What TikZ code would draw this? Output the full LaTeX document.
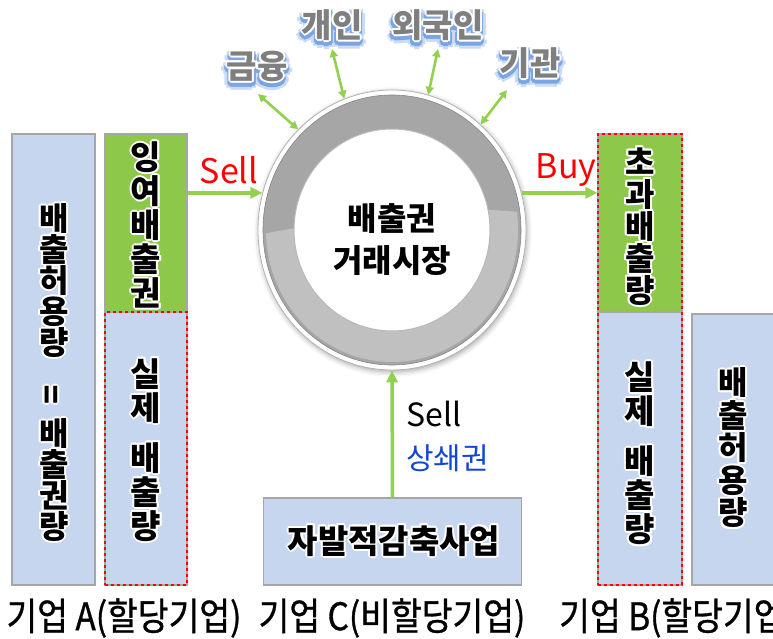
\documentclass[tikz,border=0pt]{standalone}
\usepackage{fontspec}
\usepackage{graphicx}
\setmainfont{Noto Sans CJK KR}
\newfontfamily\krnarrow[FakeStretch=0.88,FakeBold=0.8]{Noto Sans CJK KR}
\usetikzlibrary{arrows.meta,shapes.geometric,shadows.blur}
\definecolor{boxblue}{HTML}{C6D6EE}
\definecolor{boxedge}{HTML}{A6A6A6}
\definecolor{boxgreen}{HTML}{8DC84A}
\definecolor{arrowgreen}{HTML}{92D050}
\definecolor{ringdark}{HTML}{A6A6A6}
\definecolor{ringlight}{HTML}{C0C0C0}
\definecolor{labelgray}{HTML}{7F7F7F}
\definecolor{glowblue}{HTML}{4F86D8}
\definecolor{offsetblue}{HTML}{1346D6}
% #1 style, #2 name, #3 position, #4 text : black text with a white outline
\newcommand\outlinednode[4]{%
  \foreach \hangle in {0,45,...,315}{%
    \node[#1, text=white, xshift={2pt*cos(\hangle)}, yshift={2pt*sin(\hangle)}] (#2-halo\hangle) at #3 {#4};}%
  \node[#1] (#2) at #3 {#4};}
% gray text with white outline and blue glow below
\newcommand\glownode[4]{%
  \foreach \hangle in {0,45,...,315}{%
    \node[#1, text=glowblue!30, xshift={6pt*cos(\hangle)}, yshift={5pt*sin(\hangle)-4pt}] (#2-glowa\hangle) at #3 {#4};}%
  \foreach \hangle in {0,45,...,315}{%
    \node[#1, text=glowblue!75, xshift={3.5pt*cos(\hangle)}, yshift={3pt*sin(\hangle)-3pt}] (#2-glowb\hangle) at #3 {#4};}%
  \foreach \hangle in {0,45,...,315}{%
    \node[#1, text=white, xshift={2pt*cos(\hangle)}, yshift={2pt*sin(\hangle)}] (#2-halo\hangle) at #3 {#4};}%
  \node[#1, text=labelgray] (#2) at #3 {#4};}
\begin{document}
\begin{tikzpicture}[x=1pt,y=-1pt,
  bluebox/.style={draw=boxedge, line width=1.2pt, fill=boxblue, inner sep=0pt},
  greenbox/.style={draw=boxedge, line width=1.2pt, fill=boxgreen, inner sep=0pt},
  reddot/.style={draw=red, line width=2.6pt, dash pattern=on 2.6pt off 3.4pt, inner sep=0pt},
  vtext/.style={inner sep=0pt, align=center},
  glowlabel/.style={inner sep=0pt, font=\bfseries\fontsize{33}{36}\selectfont},
  botlabel/.style={inner sep=0pt, font=\krnarrow\fontsize{38}{42}\selectfont},
  garrow/.style={draw=arrowgreen, line width=3.5pt, -{Triangle[length=12pt,width=11pt]}},
  biarrow/.style={draw=arrowgreen, line width=2.6pt, {Triangle[length=8pt,width=8pt]}-{Triangle[length=8pt,width=8pt]}},
  sellred/.style={inner sep=0pt, text=red, font=\fontsize{34}{38}\selectfont}]
\useasboundingbox (0,0) rectangle (773,639);
% ---- company A
\node[bluebox, minimum width=83pt, minimum height=451pt] (capA) at (53.5,359.5) {};
\node[greenbox, minimum width=82pt, minimum height=178pt] (surplusA) at (146,223) {};
\node[bluebox, minimum width=82pt, minimum height=273pt] (actualA) at (146,448.5) {};
\node[reddot, minimum width=82pt, minimum height=273pt] (actualAframe) at (146,448.5) {};
\outlinednode{vtext, font=\bfseries\fontsize{32}{31}\selectfont}{capAtext}{(54,372.5)}{배\\출\\허\\용\\량\\[19pt]\rotatebox{90}{=}\\[10pt]배\\출\\권\\량}
\outlinednode{vtext, font=\bfseries\fontsize{33}{34}\selectfont}{surplusAtext}{(146,225)}{잉\\여\\배\\출\\권}
\outlinednode{vtext, font=\bfseries\fontsize{33}{34}\selectfont}{actualAtext}{(146,450)}{실\\제\\[16pt]배\\출\\량}
% ---- company B
\node[greenbox, minimum width=84pt, minimum height=178pt] (excessB) at (640,223) {};
\node[bluebox, minimum width=84pt, minimum height=273pt] (actualB) at (640,448.5) {};
\node[reddot, minimum width=84pt, minimum height=451pt] (groupB) at (640,359.5) {};
\node[bluebox, minimum width=82pt, minimum height=271pt] (capB) at (733,449.5) {};
\outlinednode{vtext, font=\bfseries\fontsize{32}{32}\selectfont}{excessBtext}{(640,226.5)}{초\\과\\배\\출\\량}
\outlinednode{vtext, font=\bfseries\fontsize{33}{34}\selectfont}{actualBtext}{(640,453.5)}{실\\제\\[16pt]배\\출\\량}
\outlinednode{vtext, font=\bfseries\fontsize{32}{32.5}\selectfont}{capBtext}{(733,448)}{배\\출\\허\\용\\량}
% ---- company C
\node[bluebox, minimum width=258pt, minimum height=87pt] (projC) at (392.5,541.5) {};
\outlinednode{inner sep=0pt, font=\bfseries\fontsize{33}{36}\selectfont}{projCtext}{(394,541)}{자발적감축사업}
% ---- market ring
\node[ellipse, minimum width=268pt, minimum height=280pt, inner sep=0pt, draw=gray!60, line width=0.8pt, fill=white,
  blur shadow={shadow xshift=1pt, shadow yshift=-2pt, shadow blur radius=5pt, shadow opacity=35}] (market) at (392,230) {};
\fill[ringdark, even odd rule] (392,230) ellipse [x radius=129pt, y radius=135pt] (392,230) ellipse [x radius=98pt, y radius=101pt];
\begin{scope}
  \clip (250,236) .. controls (330,222) and (440,200) .. (535,214) -- (535,380) -- (250,380) -- cycle;
  \fill[ringlight, even odd rule] (392,230) ellipse [x radius=126pt, y radius=132pt] (392,230) ellipse [x radius=98pt, y radius=101pt];
\end{scope}
\draw[ringdark!80!black, line width=0.6pt] (392,230) ellipse [x radius=129pt, y radius=135pt];
\draw[gray!55, line width=1pt, fill=white] (392,230) ellipse [x radius=98pt, y radius=101pt];
\node[inner sep=0pt, align=center, font=\bfseries\fontsize{32}{42}\selectfont] (markettext) at (392,240) {배출권\\거래시장};
% ---- participants
\glownode{glowlabel}{finance}{(257,66)}{금융}
\glownode{glowlabel}{person}{(332,25)}{개인}
\glownode{glowlabel}{foreign}{(438,25)}{외국인}
\glownode{glowlabel}{inst}{(530,63)}{기관}
\coordinate (financeend) at (258,94);
\coordinate (personend) at (332,49);
\coordinate (foreignend) at (438,49);
\coordinate (instend) at (507,90);
\draw[biarrow] (financeend) -- (market.133);
\draw[biarrow] (personend) -- (market.110);
\draw[biarrow] (foreignend) -- (market.75);
\draw[biarrow] (instend) -- (market.50);
% ---- trades
\draw[garrow] (surplusA.east |- market.164) -- (market.164);
\draw[garrow] (market.16) -- (excessB.west |- market.16);
\draw[garrow] (projC.north) -- (market.south);
\node[sellred] (sellA) at (229,170) {Sell};
\node[sellred] (buyB) at (566,170) {Buy};
\node[inner sep=0pt, font=\fontsize{32}{36}\selectfont, anchor=west] (sellC) at (406,414) {Sell};
\node[inner sep=0pt, text=offsetblue, font=\fontsize{30}{34}\selectfont, anchor=west] (offsetC) at (406,458) {상쇄권};
% ---- bottom labels
\node[botlabel] (labA) at (124,618) {기업 A(할당기업)};
\node[botlabel] (labC) at (392,618) {기업 C(비할당기업)};
\node[botlabel, anchor=west] (labB) at (559,618) {기업 B(할당기업)};
\end{tikzpicture}
\end{document}
